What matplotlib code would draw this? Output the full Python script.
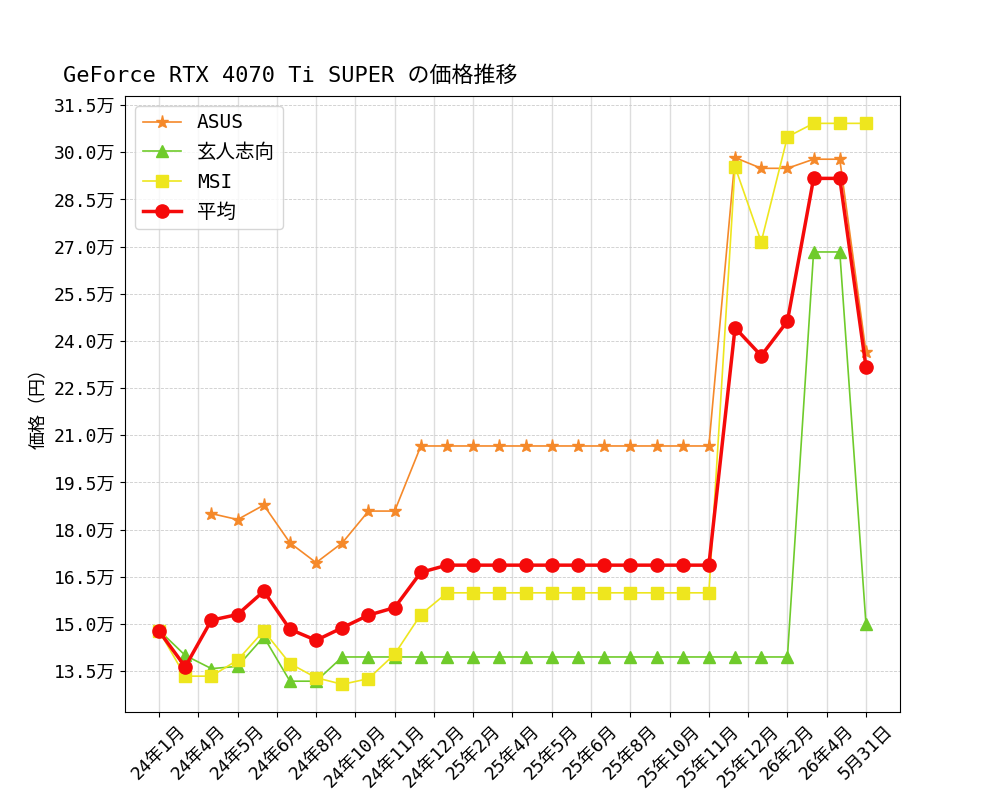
import numpy as np
import matplotlib
matplotlib.use("Agg")
import matplotlib.pyplot as plt
from matplotlib.ticker import FuncFormatter

plt.rcParams['font.family'] = ['DejaVu Sans Mono', 'Noto Sans CJK JP']

# price in yen, nan = no data
nan = np.nan
asus = [nan, nan, 185100, 183200, 187800, 175800, 169500, 175800, 185900, 185900,
        206600, 206600, 206600, 206600, 206600, 206600, 206600, 206600, 206600, 206600,
        206600, 206600, 298300, 294900, 294900, 297800, 297800, 236500]
kurouto = [148000, 140000, 135800, 136500, 145900, 131800, 131800, 139500, 139500, 139500,
           139500, 139500, 139500, 139500, 139500, 139500, 139500, 139500, 139500, 139500,
           139500, 139500, 139500, 139500, 139500, 268300, 268300, 150000]
msi = [147800, 133400, 133400, 138500, 147800, 137400, 132900, 130800, 132600, 140400,
       153000, 159900, 159900, 159900, 159900, 159900, 159900, 159900, 159900, 159900,
       159900, 159900, 295400, 271500, 304900, 309200, 309200, 309200]
heikin = [147700, 136400, 151200, 153000, 160400, 148300, 144800, 148800, 152800, 155200,
          166400, 168700, 168700, 168700, 168700, 168700, 168700, 168700, 168700, 168700,
          168700, 168700, 244200, 235300, 246300, 291700, 291700, 231800]

tick_labels = ['24年1月', '24年4月', '24年5月', '24年6月', '24年8月', '24年10月', '24年11月',
               '24年12月', '25年2月', '25年4月', '25年5月', '25年6月', '25年8月', '25年10月',
               '25年11月', '25年12月', '26年2月', '26年4月', '5月31日']

x = np.arange(len(heikin))

fig, ax = plt.subplots(figsize=(10, 8), dpi=100)

ax.plot(x, asus, marker='*', color='#f5892a', lw=1.2, ms=9.5, label='ASUS')
ax.plot(x, kurouto, marker='^', color='#6fcb2b', lw=1.2, ms=8.5, label='玄人志向')
ax.plot(x, msi, marker='s', color='#eee61e', lw=1.2, ms=9, label='MSI')
ax.plot(x, heikin, marker='o', color='#f50a0a', lw=2.5, ms=9.5, label='平均')

ax.set_xticks(np.linspace(0, len(x) - 1, len(tick_labels)))
ax.set_xticklabels(tick_labels, rotation=45, fontsize=13)
ax.set_yticks(np.arange(135000, 315001, 15000))
ax.yaxis.set_major_formatter(FuncFormatter(lambda v, p: f'{v/10000:.1f}万'))
ax.tick_params(axis='y', labelsize=13)
ax.set_ylim(122000, 317900)
ax.set_xlim(-1.3, 28.3)

ax.grid(axis='x', color='#dddddd', lw=1)
ax.grid(axis='y', color='#cccccc', lw=0.6, ls='--')

ax.set_ylabel('価格（円）', fontsize=13)
fig.text(0.063, 0.893, 'GeForce RTX 4070 Ti SUPER の価格推移', fontsize=15.8, va='bottom')
ax.legend(loc='upper left', fontsize=14, labelspacing=0.55)

plt.savefig('out.png')
